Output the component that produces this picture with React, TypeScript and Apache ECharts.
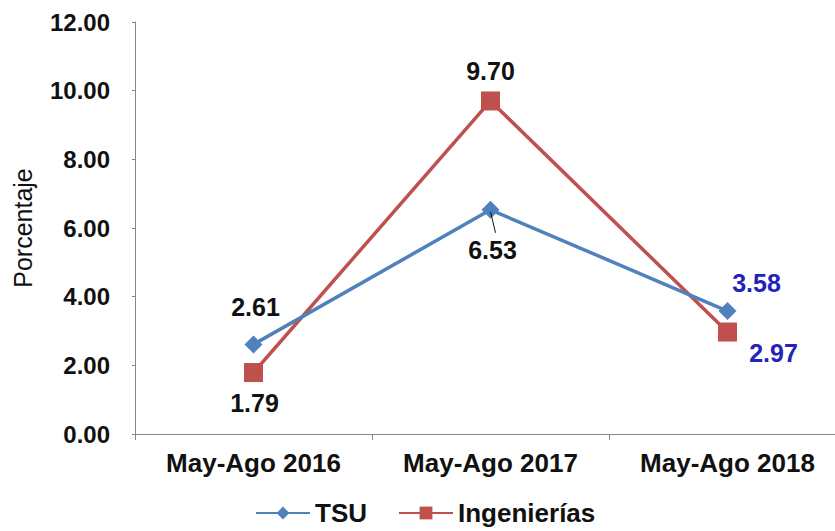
import React, { useEffect, useRef } from "react";
import * as echarts from "echarts";

const categories = ["May-Ago 2016", "May-Ago 2017", "May-Ago 2018"];
const tsuValues = [2.61, 6.53, 3.58];
const ingValues = [1.79, 9.7, 2.97];
const tsuOffsets = [[2, -37], [2, 40], [29, -28]];
const ingOffsets = [[1, 30], [0, -30], [46, 21]];
const labelColors = ["#111111", "#111111", "#2323B8"];

export default function App() {
  const ref = useRef<HTMLDivElement>(null);
  useEffect(() => {
    document.body.style.margin = "0";
    const chart = echarts.init(ref.current!, null, { renderer: "svg" });
    const font = "Arial, 'Liberation Sans', sans-serif";
    const mkData = (vals: number[], offs: number[][]) =>
      vals.map((v, i) => ({
        value: v,
        label: { offset: offs[i], color: labelColors[i] },
      }));
    const labelStyle = {
      show: true,
      position: "inside",
      fontSize: 25,
      fontWeight: "bold",
      fontFamily: font,
      formatter: (p: any) => p.value.toFixed(2),
    };
    chart.setOption({
      animation: false,
      backgroundColor: "#ffffff",
      grid: { left: 135, top: 22, width: 711, height: 412 },
      xAxis: {
        type: "category",
        data: categories,
        boundaryGap: true,
        axisLine: { lineStyle: { color: "#868686", width: 1 } },
        axisTick: { show: true, length: 6, lineStyle: { color: "#868686" } },
        axisLabel: {
          margin: 16,
          fontSize: 26,
          fontWeight: "bold",
          color: "#111111",
          fontFamily: font,
          interval: 0,
        },
      },
      yAxis: {
        type: "value",
        min: 0,
        max: 12,
        interval: 2,
        name: "Porcentaje",
        nameLocation: "middle",
        nameGap: 100,
        nameTextStyle: { fontSize: 25, color: "#111111", fontFamily: font },
        axisLine: { show: true, lineStyle: { color: "#868686", width: 1 } },
        axisTick: { show: true, length: 3, lineStyle: { color: "#868686" } },
        splitLine: { show: false },
        axisLabel: {
          margin: 25,
          fontSize: 24,
          fontWeight: "bold",
          color: "#111111",
          fontFamily: font,
          formatter: (v: number) => v.toFixed(2),
        },
      },
      legend: {
        top: 495,
        left: 250,
        itemWidth: 54,
        itemHeight: 16,
        itemGap: 31,
        textStyle: { fontSize: 26, fontWeight: "bold", color: "#111111", fontFamily: font },
        data: ["TSU", "Ingenierías"],
      },
      series: [
        {
          name: "Ingenierías",
          type: "line",
          data: mkData(ingValues, ingOffsets),
          symbol: "rect",
          symbolSize: 19,
          itemStyle: { color: "#C0504D" },
          lineStyle: { color: "#C0504D", width: 3.5 },
          label: labelStyle,
          z: 2,
        },
        {
          name: "TSU",
          type: "line",
          data: mkData(tsuValues, tsuOffsets),
          symbol: "diamond",
          symbolSize: 18,
          itemStyle: { color: "#4F81BD" },
          lineStyle: { color: "#4F81BD", width: 3.5 },
          label: labelStyle,
          z: 3,
        },
      ],
    });
    const p = chart.convertToPixel({ seriesIndex: 1 }, [1, tsuValues[1]]) as number[];
    chart.setOption({
      graphic: [
        {
          type: "line",
          shape: { x1: p[0] + 5, y1: p[1] + 23, x2: p[0], y2: p[1] + 2 },
          style: { stroke: "#111111", lineWidth: 1 },
          z: 10,
        },
      ],
    });
    return () => chart.dispose();
  }, []);
  return (
    <div style={{ width: 835, height: 531, overflow: "hidden", position: "relative" }}>
      <div ref={ref} style={{ width: 860, height: 531 }} />
    </div>
  );
}
